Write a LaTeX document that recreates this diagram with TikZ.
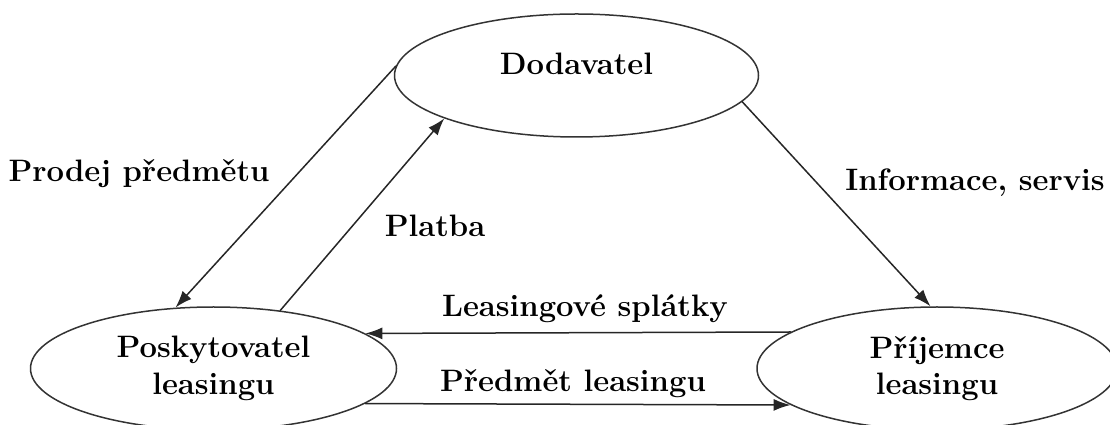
\documentclass[tikz,border=0pt]{standalone}
\usepackage{fontspec}
\usetikzlibrary{arrows.meta,shapes.geometric}
\begin{document}
\begin{tikzpicture}[line cap=round, line join=round, x=1pt, y=1pt,
        every node/.style={font=\fontsize{31}{36.5}\selectfont\bfseries},
        party/.style={draw=black!80, line width=1.5pt, ellipse, inner sep=0pt,
            minimum width=364pt, minimum height=123pt, align=center},
        flow/.style={draw=black!85, line width=1.5pt, -{Latex[length=17pt, width=12pt]}}]
                \useasboundingbox (0, 0) rectangle (1110, 425);
                \node[party, text height=21pt, text depth=23pt] (dod) at (576.5, 349.5) {Dodavatel};
                \node[party, minimum width=366pt] (posk) at (213.5, 56.5) {Poskytovatel\\leasingu};
                \node[party, minimum width=360pt] (prij) at (937, 56.5) {Příjemce\\leasingu};
                \draw[flow] (dod.177) -- (posk.122);
                \draw[flow] (posk.41) -- (dod.198);
                \draw[flow] (dod.351) -- (prij.96);
                \draw[flow] (prij.166) -- (posk.13);
                \draw[flow] (posk.-13) -- (prij.-166);
                \foreach \name/\x/\y/\txt in {prodej/139/243/{Prodej předmětu}, platba/435/188/Platba,
                        info/975/234/{Informace, servis}, splatky/585/108/{Leasingové splátky},
                        predmet/573/33/{Předmět leasingu}}
                    \node[anchor=base] (\name) at (\x, \y) {\txt};
            \end{tikzpicture}
\end{document}
